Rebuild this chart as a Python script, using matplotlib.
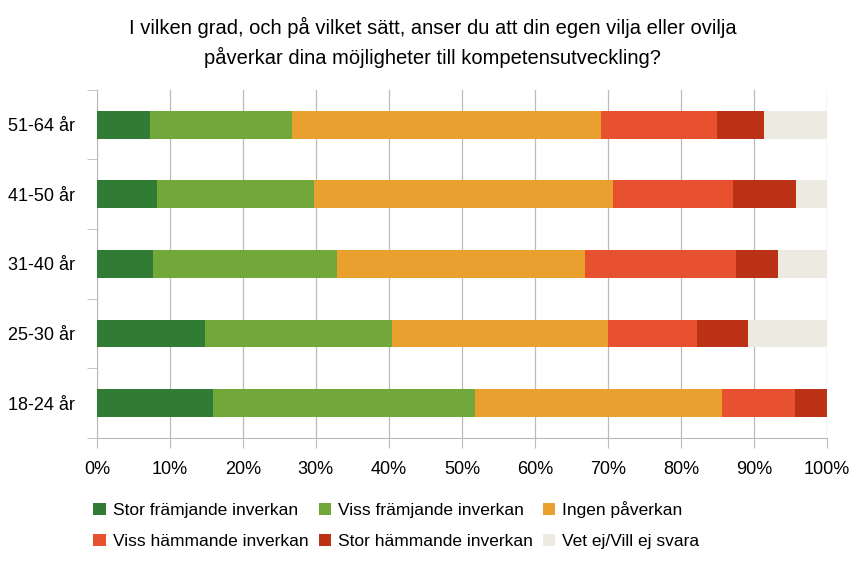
import matplotlib.pyplot as plt
import numpy as np

plt.rcParams['font.family'] = ['Liberation Sans', 'DejaVu Sans']

# -----------------------------------------------------------------------------
# Data (share in percent, bottom row first) -----------------------------------
# -----------------------------------------------------------------------------
groups = ["18-24 år", "25-30 år", "31-40 år", "41-50 år", "51-64 år"]
series_names = [
    "Stor främjande inverkan",
    "Viss främjande inverkan",
    "Ingen påverkan",
    "Viss hämmande inverkan",
    "Stor hämmande inverkan",
    "Vet ej/Vill ej svara",
]
stor_framjande = [15.9, 14.8, 7.7, 8.2, 7.3]
viss_framjande = [35.9, 25.6, 25.2, 21.5, 19.4]
ingen = [33.8, 29.6, 33.9, 41.0, 42.3]
viss_hammande = [10.0, 12.2, 20.7, 16.4, 16.0]
stor_hammande = [4.4, 7.0, 5.8, 8.6, 6.4]
vet_ej = [0.0, 10.8, 6.7, 4.3, 8.6]
colors = ["#317C35", "#72A83A", "#EAA02F", "#E8512F", "#BB3216", "#EDEBE1"]

values = [stor_framjande, viss_framjande, ingen, viss_hammande, stor_hammande, vet_ej]

fig = plt.figure(figsize=(8.65, 5.65), dpi=100)
ax = fig.add_axes([0.112, 0.225, 0.844, 0.616])

y = np.arange(len(groups))
left = np.zeros(len(groups))
handles = []
for name, vals, col in zip(series_names, values, colors):
    h = ax.barh(y, vals, left=left, height=0.4, color=col, label=name, zorder=3)
    handles.append(h)
    left += np.array(vals)

ax.set_xlim(0, 100)
ax.set_ylim(-0.5, len(groups) - 0.5)
ax.set_xticks(np.arange(0, 101, 10))
ax.set_xticklabels([f"{v}%" for v in range(0, 101, 10)], fontsize=13)
ax.set_yticks(y)
ax.set_yticklabels(groups, fontsize=13)
ax.set_yticks(np.arange(-0.5, len(groups), 1), minor=True)
ax.tick_params(axis="y", which="major", length=0, pad=16)
ax.tick_params(axis="y", which="minor", length=7, color="#BBBBBB")
ax.tick_params(axis="x", length=7, color="#BBBBBB", pad=10)
ax.grid(axis="x", color="#BBBBBB", linewidth=0.9, zorder=0)

for side in ["top", "right"]:
    ax.spines[side].set_visible(False)
for side in ["left", "bottom"]:
    ax.spines[side].set_color("#BBBBBB")

fig.suptitle(
    "I vilken grad, och på vilket sätt, anser du att din egen vilja eller ovilja\n"
    "påverkar dina möjligheter till kompetensutveckling?",
    fontsize=14.5, y=0.97, linespacing=1.55,
)

# legend is filled row by row in the reference
order = [0, 3, 1, 4, 2, 5]
fig.legend(
    [handles[i] for i in order],
    [series_names[i] for i in order],
    loc="lower left",
    bbox_to_anchor=(0.09, 0.0),
    ncol=3,
    frameon=False,
    fontsize=12.5,
    handlelength=0.7,
    handleheight=0.7,
    handletextpad=0.4,
    columnspacing=0.6,
    labelspacing=0.95,
)

fig.savefig("out.png", dpi=100)
